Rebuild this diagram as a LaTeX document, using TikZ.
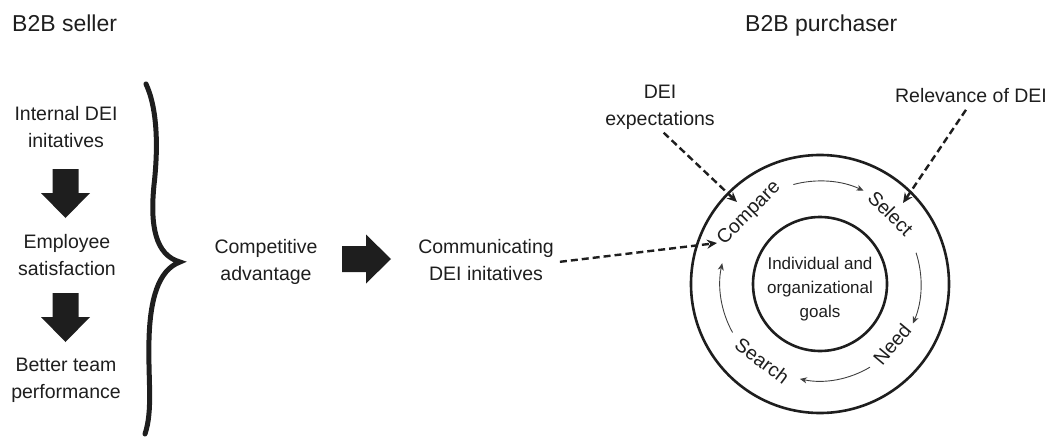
\documentclass[tikz,border=0pt]{standalone}
\usepackage{fontspec}
\setmainfont{Liberation Sans}
\usetikzlibrary{arrows.meta,calc}
\definecolor{ink}{HTML}{1E1E1E}
\begin{document}
\begin{tikzpicture}[x=1pt,y=1pt,
  every node/.style={inner sep=0pt, text=ink},
  % multi-line labels are placed by the baseline of their last line
  label/.style={font=\fontsize{19.5}{27}\selectfont, align=center, anchor=base},
  heading/.style={font=\fontsize{23}{28}\selectfont, anchor=base west},
  brace/.style={draw=ink, line width=5pt, line cap=round, line join=miter},
  ring/.style={circle, draw=ink, line width=2.6pt},
  cyclelabel/.style={font=\fontsize{19.5}{24}\selectfont, anchor=center},
  cyclearrow/.style={draw=ink!85, line width=0.9pt, -{Stealth[length=7pt,width=6pt,inset=2pt]}},
  dashedarrow/.style={draw=ink, line width=2.4pt, dash pattern=on 7pt off 4pt, -{Stealth[length=10pt,width=9pt]}},
  blockarrow/.pic={\fill[ink] (-13,0) -- (13,0) -- (13,-24) -- (24.5,-24) -- (0,-49) -- (-24.5,-24) -- (-13,-24) -- cycle;},
]
\useasboundingbox (0,0) rectangle (1051,-436);

% headings
\node[heading] (seller) at (12,-32) {B2B seller};
\node[heading] (purchaser) at (745,-32) {B2B purchaser};

% seller side: chain of internal effects
\node[label] (internal) at (66,-147) {Internal DEI\\initatives};
\node[label] (satisf) at (67,-275) {Employee\\satisfaction};
\node[label] (perf) at (66,-398) {Better team\\performance};
\pic at (65.5,-169) {blockarrow};
\pic at (65.5,-293) {blockarrow};

% curly brace gathering the chain
\draw[brace] (146,-84) .. controls (158,-110) and (158,-150) .. (154,-185)
  .. controls (150,-225) and (155,-255) .. (180,-262)
  .. controls (158,-270) and (150,-300) .. (149,-340)
  .. controls (148,-380) and (153,-410) .. (145,-434);

% middle: advantage and communication
\node[label] (compet) at (266,-280) {Competitive\\advantage};
\pic[rotate=90] at (342,-259) {blockarrow};
\node[label] (comm) at (486,-280) {Communicating\\DEI initatives};

% purchaser side: decision cycle
\coordinate (C) at (820,-284);
\node[ring, minimum size=258pt] (outer) at (C) {};
\node[ring, minimum size=134pt] (inner) at (C) {};
\node[font=\fontsize{17}{24}\selectfont, align=center, anchor=base] (goals) at (820,-317) {Individual and\\organizational\\goals};

\node[cyclelabel, rotate=45] (compare) at ($(C)+(135:100)$) {Compare};
\node[cyclelabel, rotate=-45] (select) at ($(C)+(45:100)$) {Select};
\node[cyclelabel, rotate=50] (need) at ($(C)+(-40:94)$) {Need};
\node[cyclelabel, rotate=-37] (search) at ($(C)+(-127:96)$) {Search};

\draw[cyclearrow] ([shift={(105:103)}]C) arc[start angle=105, end angle=65, radius=103];
\draw[cyclearrow] ([shift={(18:101)}]C) arc[start angle=18, end angle=-23, radius=101];
\draw[cyclearrow] ([shift={(-59:97)}]C) arc[start angle=-59, end angle=-102, radius=97];
\draw[cyclearrow] ([shift={(209:100)}]C) arc[start angle=209, end angle=168, radius=100];

% external influences
\node[label] (expect) at (660,-125) {DEI\\expectations};
\node[label] (relev) at (971,-102) {Relevance of DEI};

\coordinate (commtip) at (717,-243);
\coordinate (expecttip) at (737,-202);
\coordinate (relevtip) at (903,-203);

\draw[dashedarrow, shorten <=6pt] ([yshift=-3pt]comm.east) -- (commtip);
\draw[dashedarrow, shorten <=5pt] (expect.south) -- (expecttip);
\draw[dashedarrow, shorten <=9pt] (relev.south) -- (relevtip);
\end{tikzpicture}
\end{document}
